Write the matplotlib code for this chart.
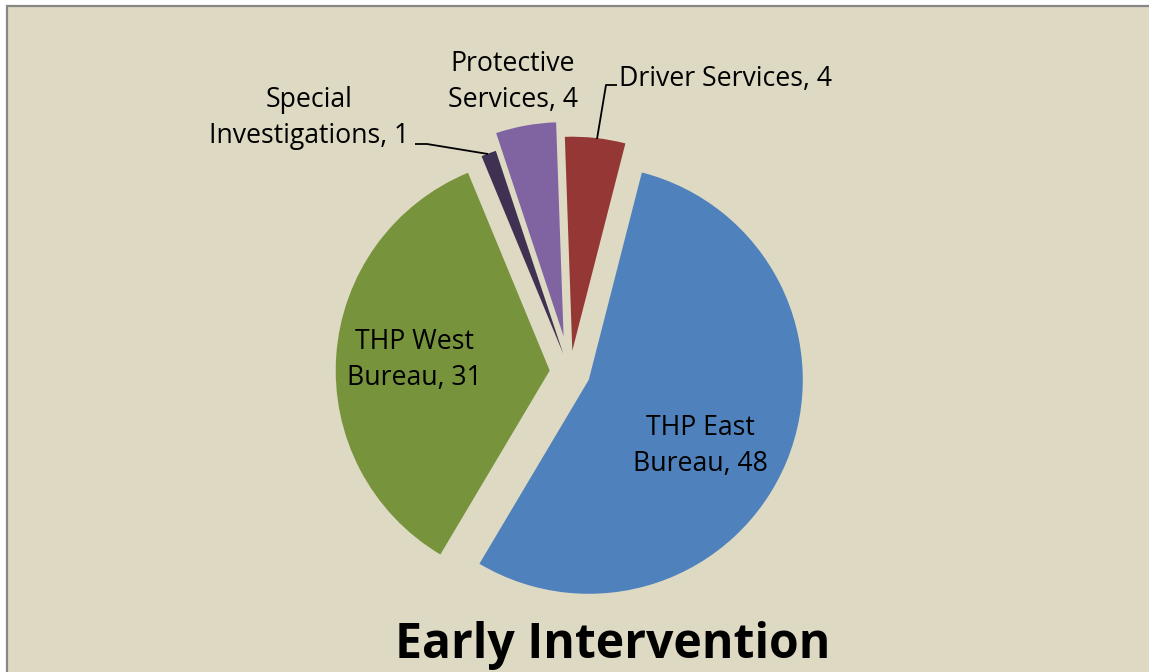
import matplotlib
matplotlib.use('Agg')
import matplotlib.pyplot as plt
from matplotlib.patches import Rectangle

categories = ['Driver Services', 'THP East Bureau', 'THP West Bureau',
              'Special Investigations', 'Protective Services']
values = [4, 48, 31, 1, 4]
colors = ['#953735', '#4F81BD', '#77933C', '#3F3151', '#8064A2']
explode = [0.1, 0.095, 0.095, 0.09, 0.17]
label_texts = ['Driver Services, 4', 'THP East\nBureau, 48', 'THP West\nBureau, 31',
               'Special\nInvestigations, 1', 'Protective\nServices, 4']
title = 'Early Intervention'

W, H = 1149, 672
CX, CY, R = 570, 372, 214


def P(px, py):
    return ((px - CX) / R, (CY - py) / R)


fig = plt.figure(figsize=(W / 100, H / 100), dpi=100)
fig.patch.set_facecolor('white')
ax = fig.add_axes([0, 0, 1, 1])
ax.set_aspect('auto')
ax.set_xlim(-CX / R, (W - CX) / R)
ax.set_ylim((CY - H) / R, CY / R)
ax.axis('off')

# chart-area background with gray border on left and top (right/bottom cropped off)
x0, y0 = P(6.5, 700)
x1, y1 = P(1200, 6.0)
ax.add_patch(Rectangle((x0, y0), x1 - x0, y1 - y0, facecolor='#DDD9C3',
                       edgecolor='#878787', lw=1.6, zorder=0, clip_on=True))

ax.pie(values, colors=colors, explode=explode, startangle=92, counterclock=False,
       radius=1, center=(0, 0), wedgeprops=dict(linewidth=0, zorder=2))
ax.set_aspect('auto')
ax.set_xlim(-CX / R, (W - CX) / R)
ax.set_ylim((CY - H) / R, CY / R)
ax.axis('off')

fs = 19.2
font = 'Open Sans'
ls = 1.4
ax.text(*P(619, 79), label_texts[0], ha='left', va='center', fontsize=fs,
        family=font, color='black')
ax.text(*P(700, 446), label_texts[1], ha='center', va='center', fontsize=fs,
        family=font, linespacing=ls, color='black')
ax.text(*P(414, 360), label_texts[2], ha='center', va='center', fontsize=fs,
        family=font, linespacing=ls, color='black')
ax.text(*P(309, 118), label_texts[3], ha='center', va='center', fontsize=fs,
        family=font, linespacing=ls, color='black')
ax.text(*P(513, 82), label_texts[4], ha='center', va='center', fontsize=fs,
        family=font, linespacing=ls, color='black')


def leader(pts):
    xs, ys = zip(*[P(*p) for p in pts])
    ax.plot(xs, ys, color='black', lw=1.3, solid_capstyle='butt', zorder=3)


leader([(617, 85), (606, 85), (597, 139)])
leader([(415, 144), (427, 144), (488, 154)])

fig.text(613 / W, 1 - 658 / H, title, ha='center', va='baseline', fontsize=34.7,
         fontweight='bold', family=font, color='black')

fig.savefig('out.png', dpi=100, facecolor=fig.get_facecolor())
